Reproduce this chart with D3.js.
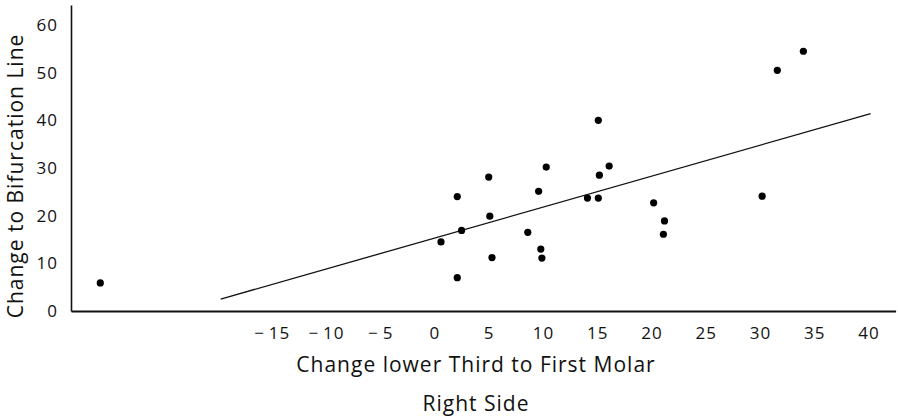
<!DOCTYPE html>
<html>
<head>
<meta charset="utf-8">
<script src="https://cdn.jsdelivr.net/npm/d3@7"></script>
<style>
  html, body { margin: 0; padding: 0; background: #fff; }
  svg { display: block; }
  text { font-family: "Open Sans", "Lato", sans-serif; fill: #111; }
</style>
</head>
<body>
<svg id="chart" width="898" height="419"></svg>
<script>
// Data
const pointX = [15.1, 5.0, 10.3, 16.1, 15.2, 2.1, 9.6, 14.1, 15.1, 20.2, 5.1, 2.5, 0.6, 8.6, 9.8, 9.9, 5.3, 2.1, 21.2, 21.1, 34.0, 31.6, 30.2, -30.8];
const pointY = [40.0, 28.1, 30.2, 30.4, 28.5, 24.0, 25.1, 23.7, 23.7, 22.7, 19.9, 16.9, 14.5, 16.5, 13.0, 11.1, 11.2, 7.0, 18.9, 16.1, 54.5, 50.5, 24.1, 5.9];
const fitX = [-19.7, 40.2];
const fitY = [2.5, 41.4];
const xTicks = [-15, -10, -5, 0, 5, 10, 15, 20, 25, 30, 35, 40];
const yTicks = [0, 10, 20, 30, 40, 50, 60];
const xTitle = "Change lower Third to First Molar";
const xSubtitle = "Right Side";
const yTitle = "Change to Bifurcation Line";

const svg = d3.select("#chart");
const x = d3.scaleLinear().domain([-33.5, 42.5]).range([71, 895.6]);
const y = d3.scaleLinear().domain([0, 64.2]).range([311, 5]);

// X axis
const xAxis = svg.append("g")
  .attr("transform", `translate(0,${y(0)})`)
  .call(d3.axisBottom(x).tickValues(xTicks).tickSize(0).tickPadding(16)
    .tickFormat(d => d < 0 ? "\u2212\u2009" + Math.abs(d) : String(d)));
xAxis.select(".domain").attr("stroke", "#111").attr("stroke-width", 1.8);
xAxis.selectAll(".tick text").attr("font-size", 17).attr("fill", "#111")
  .attr("letter-spacing", 1)
  .style("font-family", '"Open Sans", sans-serif');

// Y axis
const yAxis = svg.append("g")
  .attr("transform", `translate(${x.range()[0]},0)`)
  .call(d3.axisLeft(y).tickValues(yTicks).tickSize(0).tickPadding(13));
yAxis.select(".domain").attr("stroke", "#111").attr("stroke-width", 1.6);
yAxis.selectAll(".tick text").attr("font-size", 17).attr("fill", "#111")
  .attr("letter-spacing", 1)
  .style("font-family", '"Open Sans", sans-serif');

// Regression line
const lineData = fitX.map((v, i) => [v, fitY[i]]);
svg.append("path")
  .datum(lineData)
  .attr("fill", "none")
  .attr("stroke", "#111")
  .attr("stroke-width", 1.3)
  .attr("d", d3.line().x(d => x(d[0])).y(d => y(d[1])));

// Points
const pts = pointX.map((v, i) => ({ x: v, y: pointY[i] }));
svg.append("g").selectAll("circle")
  .data(pts)
  .join("circle")
  .attr("cx", d => x(d.x))
  .attr("cy", d => y(d.y))
  .attr("r", 3.6)
  .attr("fill", "#000");

// Titles
svg.append("text")
  .attr("x", 476).attr("y", 372)
  .attr("text-anchor", "middle")
  .attr("font-size", 21)
  .attr("letter-spacing", 1)
  .text(xTitle);
svg.append("text")
  .attr("x", 476).attr("y", 411)
  .attr("text-anchor", "middle")
  .attr("font-size", 21)
  .attr("letter-spacing", 1)
  .text(xSubtitle);
svg.append("text")
  .attr("transform", "translate(23,176) rotate(-90)")
  .attr("text-anchor", "middle")
  .attr("font-size", 21)
  .attr("letter-spacing", 1)
  .text(yTitle);
</script>
</body>
</html>
